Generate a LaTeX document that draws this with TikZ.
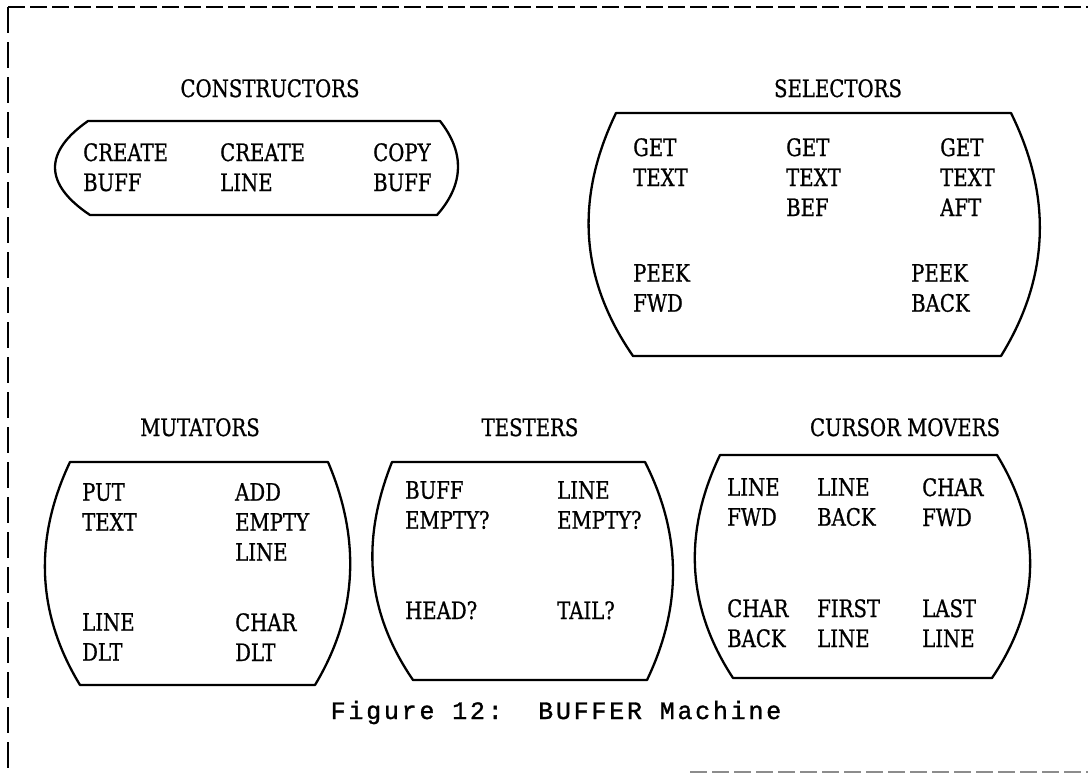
\documentclass[tikz,border=0pt]{standalone}
\usepackage{fontspec}
\usepackage{tikz}
\newfontfamily\labelfont{DejaVu Serif}[FakeStretch=0.82, FakeBold=0.8]
\newfontfamily\capfont{Liberation Mono}[LetterSpace=11, FakeBold=1.2]

\begin{document}
\begin{tikzpicture}[x=1pt, y=-1pt,
  rim/.style={line width=2.3pt, line join=round},
  frm/.style={line width=1.8pt},
  grp/.style={font=\labelfont\fontsize{24}{30}\selectfont, inner sep=0pt, anchor=base},
  op/.style={font=\labelfont\fontsize{24}{30}\selectfont, inner sep=0pt,
             anchor=north west, align=left},
  figcap/.style={font=\capfont\fontsize{25}{28}\selectfont, inner sep=0pt, anchor=base},
]
\useasboundingbox (0,0) rectangle (1088,774);

% page frame
\draw[frm, dash pattern=on 17pt off 5pt] (8,7) -- (1088,7);
\draw[frm, dash pattern=on 26pt off 9pt] (8,7) -- (8,774);
\draw[frm, black!45, dash pattern=on 17pt off 5pt] (690,772) -- (1088,772);

% group titles
\node[grp] (tcons) at (270,97) {CONSTRUCTORS};
\node[grp] (tsel) at (838,97) {SELECTORS};
\node[grp] (tmut) at (200,436) {MUTATORS};
\node[grp] (ttest) at (530,436) {TESTERS};
\node[grp] (tcur) at (905,436) {CURSOR MOVERS};

% outlines
\draw[rim] (88,121) -- (440,121) .. controls (464.5,152) and (464.5,184) .. (437,215)
  -- (90,215) .. controls (43.7,184) and (43.7,152) .. cycle;
\draw[rim] (616,113) -- (1011,113) .. controls (1051,194) and (1051,275) .. (1001,356)
  -- (633,356) .. controls (577,275) and (577,194) .. cycle;
\draw[rim] (70,462) -- (328,462) .. controls (359.5,536) and (359.5,611) .. (315,685)
  -- (80,685) .. controls (35,611) and (35,536) .. cycle;
\draw[rim] (392,462) -- (645,462) .. controls (682,535) and (682,607) .. (647,680)
  -- (413,680) .. controls (363,607) and (363,535) .. cycle;
\draw[rim] (720,455) -- (997,455) .. controls (1042,529) and (1042,604) .. (992,678)
  -- (733,678) .. controls (684.5,604) and (684.5,529) .. cycle;

% constructors
\node[op] (cbuf) at (83,143) {CREATE\\BUFF};
\node[op] (cline) at (220,143) {CREATE\\LINE};
\node[op] (copy) at (373,143) {COPY\\BUFF};

% selectors
\node[op] (gtext) at (633,138) {GET\\TEXT};
\node[op] (gbef) at (786,138) {GET\\TEXT\\BEF};
\node[op] (gaft) at (940,138) {GET\\TEXT\\AFT};
\node[op] (pfwd) at (633,264) {PEEK\\FWD};
\node[op] (pback) at (911,264) {PEEK\\BACK};

% mutators
\node[op] (put) at (82,483) {PUT\\TEXT};
\node[op] (add) at (235,483) {ADD\\EMPTY\\LINE};
\node[op] (ldlt) at (82,613) {LINE\\DLT};
\node[op] (cdlt) at (235,613) {CHAR\\DLT};

% testers
\node[op] (bemp) at (405,481) {BUFF\\EMPTY?};
\node[op] (lemp) at (557,481) {LINE\\EMPTY?};
\node[op] (head) at (405,601) {HEAD?};
\node[op] (tail) at (557,601) {TAIL?};

% cursor movers
\node[op] (lfwd) at (727,478) {LINE\\FWD};
\node[op] (lback) at (817,478) {LINE\\BACK};
\node[op] (cfwd) at (922,478) {CHAR\\FWD};
\node[op] (cback) at (727,599) {CHAR\\BACK};
\node[op] (first) at (817,599) {FIRST\\LINE};
\node[op] (last) at (922,599) {LAST\\LINE};

% caption
\node[figcap] (fig) at (556,719) {Figure 12:\ \ BUFFER Machine};
\end{tikzpicture}
\end{document}
